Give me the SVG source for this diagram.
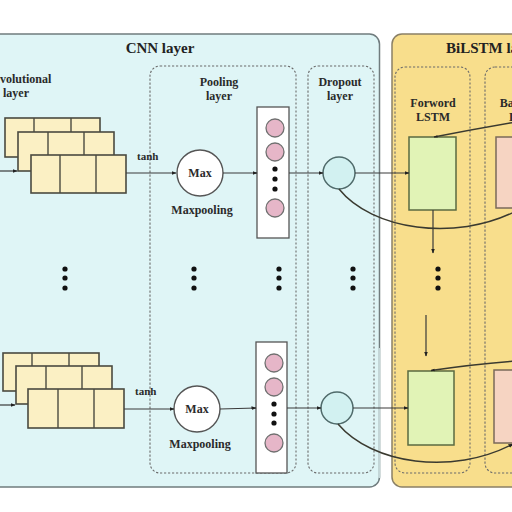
<svg xmlns="http://www.w3.org/2000/svg" width="512" height="512" viewBox="0 0 512 512">
  <style>
    .title { font-family: "Liberation Serif", "Times New Roman", serif; font-weight: bold; font-size: 15px; fill: #222222; }
    .lbl { font-family: "Liberation Serif", "Times New Roman", serif; font-weight: bold; font-size: 12px; fill: #2a2a2a; }
    .small { font-family: "Liberation Serif", "Times New Roman", serif; font-weight: bold; font-size: 11px; fill: #2a2a2a; }
    .dash { fill: none; stroke: #6a6a6a; stroke-width: 1.1; stroke-dasharray: 2.2 1.8; }
    .cell { fill: #fbf0c4; stroke: #4a4a40; stroke-width: 1.6; }
    .div { stroke: #4a4a40; stroke-width: 1.4; }
    .pink { fill: #e6b6c8; stroke: #707070; stroke-width: 1.3; }
    .vec { fill: #ffffff; stroke: #555555; stroke-width: 1.3; }
    .maxc { fill: #ffffff; stroke: #555555; stroke-width: 1.4; }
    .drop { fill: #d2f1f1; stroke: #4f6a6a; stroke-width: 1.5; }
    .fwd { fill: #e1f3b6; stroke: #5a6a40; stroke-width: 1.5; }
    .bwd { fill: #f6d4c2; stroke: #7a6a5a; stroke-width: 1.5; }
    .dot { fill: #111111; }
    .wire { fill: none; stroke: #3a3a3a; stroke-width: 1.2; }
    .curve { fill: none; stroke: #3a3a30; stroke-width: 1.5; }
  </style>
  <defs>
    <marker id="arr" viewBox="0 0 10 10" refX="9" refY="5" markerWidth="5" markerHeight="5" orient="auto" markerUnits="userSpaceOnUse">
      <path d="M0,1 L10,5 L0,9 z" fill="#222222"/>
    </marker>
    <marker id="arrw" viewBox="0 0 10 10" refX="9" refY="5" markerWidth="12" markerHeight="4" orient="auto" markerUnits="userSpaceOnUse">
      <path d="M0,2 L10,5 L0,8 z" fill="#222222"/>
    </marker>
  </defs>

  <rect width="512" height="512" fill="#ffffff"/>

  <!-- CNN container -->
  <g id="cnn-layer">
    <rect x="-10" y="34" width="389.5" height="453" rx="10" fill="#dff5f6" stroke="#707c7e" stroke-width="1.5"/>
    <line x1="379.5" y1="348" x2="379.5" y2="478" stroke="#c4d6d8" stroke-width="1.6"/>
    <text class="title" x="160" y="53" text-anchor="middle">CNN layer</text>
  </g>

  <!-- BiLSTM container -->
  <g id="bilstm-layer">
    <rect x="392" y="34" width="140" height="453" rx="10" fill="#f8de8c" stroke="#8a8066" stroke-width="1.5"/>
    <text class="title" x="446" y="53">BiLSTM layer</text>
  </g>

  <!-- layer columns -->
  <g id="conv-column">
    <text class="lbl" x="15" y="83" text-anchor="middle">Convolutional</text>
    <text class="lbl" x="16" y="97" text-anchor="middle">layer</text>
  </g>
  <g id="pooling-column">
    <rect class="dash" x="150" y="66" width="146" height="407" rx="10"/>
    <text class="lbl" x="219" y="86" text-anchor="middle">Pooling</text>
    <text class="lbl" x="219" y="100" text-anchor="middle">layer</text>
  </g>
  <g id="dropout-column">
    <rect class="dash" x="308" y="66" width="66" height="407" rx="10"/>
    <text class="lbl" x="340" y="86" text-anchor="middle">Dropout</text>
    <text class="lbl" x="340" y="100" text-anchor="middle">layer</text>
  </g>
  <g id="forward-column">
    <rect class="dash" x="395" y="67" width="75" height="406" rx="10"/>
    <text class="lbl" x="433" y="107" text-anchor="middle">Forword</text>
    <text class="lbl" x="433" y="121" text-anchor="middle">LSTM</text>
  </g>
  <g id="backward-column">
    <rect class="dash" x="485" y="67" width="70" height="406" rx="10"/>
    <text class="lbl" x="526" y="107" text-anchor="middle">Backward</text>
    <text class="lbl" x="526" y="121" text-anchor="middle">LSTM</text>
  </g>

  <!-- convolution feature maps, upper -->
  <g id="conv-top">
    <rect class="cell" x="5" y="118" width="95" height="39"/>
    <line class="div" x1="34" y1="118" x2="34" y2="157"/>
    <line class="div" x1="71" y1="118" x2="71" y2="157"/>
    <rect class="cell" x="18" y="132" width="96" height="39"/>
    <line class="div" x1="48" y1="132" x2="48" y2="171"/>
    <line class="div" x1="84" y1="132" x2="84" y2="171"/>
    <rect class="cell" x="31" y="155" width="95" height="38"/>
    <line class="div" x1="60" y1="155" x2="60" y2="193"/>
    <line class="div" x1="96" y1="155" x2="96" y2="193"/>
  </g>

  <!-- convolution feature maps, lower -->
  <g id="conv-bottom">
    <rect class="cell" x="3" y="353" width="96" height="38"/>
    <line class="div" x1="32" y1="353" x2="32" y2="391"/>
    <line class="div" x1="69" y1="353" x2="69" y2="391"/>
    <rect class="cell" x="16" y="366" width="96" height="38"/>
    <line class="div" x1="46" y1="366" x2="46" y2="404"/>
    <line class="div" x1="82" y1="366" x2="82" y2="404"/>
    <rect class="cell" x="28" y="389" width="96" height="39"/>
    <line class="div" x1="58" y1="389" x2="58" y2="428"/>
    <line class="div" x1="94" y1="389" x2="94" y2="428"/>
  </g>

  <!-- max pooling units -->
  <g id="max-top">
    <circle class="maxc" cx="200" cy="173" r="23"/>
    <text class="lbl" x="200" y="177" text-anchor="middle">Max</text>
    <text class="lbl" x="202" y="214" text-anchor="middle">Maxpooling</text>
  </g>
  <g id="max-bottom">
    <circle class="maxc" cx="197" cy="409" r="23"/>
    <text class="lbl" x="197" y="413" text-anchor="middle">Max</text>
    <text class="lbl" x="200" y="448" text-anchor="middle">Maxpooling</text>
  </g>

  <!-- pooled vectors -->
  <g id="vector-top">
    <rect class="vec" x="257" y="107" width="32" height="131"/>
    <circle class="pink" cx="275" cy="128" r="9"/>
    <circle class="pink" cx="275" cy="152" r="9"/>
    <circle class="dot" cx="275" cy="169" r="2.6"/>
    <circle class="dot" cx="275" cy="179" r="2.6"/>
    <circle class="dot" cx="275" cy="189" r="2.6"/>
    <circle class="pink" cx="275" cy="208" r="9"/>
  </g>
  <g id="vector-bottom">
    <rect class="vec" x="256" y="342" width="31" height="131"/>
    <circle class="pink" cx="274" cy="363" r="9"/>
    <circle class="pink" cx="274" cy="387" r="9"/>
    <circle class="dot" cx="274" cy="404" r="2.6"/>
    <circle class="dot" cx="274" cy="414" r="2.6"/>
    <circle class="dot" cx="274" cy="423" r="2.6"/>
    <circle class="pink" cx="274" cy="443" r="9"/>
  </g>

  <!-- dropout units -->
  <g id="dropout-top">
    <circle class="drop" cx="339" cy="173" r="16"/>
  </g>
  <g id="dropout-bottom">
    <circle class="drop" cx="337" cy="408" r="16"/>
  </g>

  <!-- LSTM cells -->
  <g id="forward-top">
    <rect class="fwd" x="409" y="137" width="47" height="73"/>
  </g>
  <g id="backward-top">
    <rect class="bwd" x="496" y="137" width="40" height="71"/>
  </g>
  <g id="forward-bottom">
    <rect class="fwd" x="408" y="371" width="46" height="74"/>
  </g>
  <g id="backward-bottom">
    <rect class="bwd" x="494" y="370" width="42" height="73"/>
  </g>

  <!-- vertical ellipses between the two rows -->
  <g id="ellipses">
    <circle class="dot" cx="65" cy="269" r="2.6"/>
    <circle class="dot" cx="65" cy="278" r="2.6"/>
    <circle class="dot" cx="65" cy="288" r="2.6"/>
    <circle class="dot" cx="194" cy="269" r="2.6"/>
    <circle class="dot" cx="194" cy="278" r="2.6"/>
    <circle class="dot" cx="194" cy="288" r="2.6"/>
    <circle class="dot" cx="279" cy="269" r="2.6"/>
    <circle class="dot" cx="279" cy="278" r="2.6"/>
    <circle class="dot" cx="279" cy="288" r="2.6"/>
    <circle class="dot" cx="353" cy="269" r="2.6"/>
    <circle class="dot" cx="353" cy="278" r="2.6"/>
    <circle class="dot" cx="353" cy="288" r="2.6"/>
    <circle class="dot" cx="438" cy="269" r="2.6"/>
    <circle class="dot" cx="438" cy="278" r="2.6"/>
    <circle class="dot" cx="438" cy="288" r="2.6"/>
  </g>

  <!-- connectors -->
  <g id="connectors">
    <!-- upper row -->
    <line class="wire" x1="-2" y1="171" x2="17" y2="171" marker-end="url(#arr)"/>
    <line class="wire" x1="126" y1="173" x2="176" y2="173" marker-end="url(#arr)"/>
    <text class="small" x="137" y="160">tanh</text>
    <line class="wire" x1="223" y1="173" x2="257" y2="173" marker-end="url(#arr)"/>
    <line class="wire" x1="289" y1="173" x2="323" y2="173" marker-end="url(#arr)"/>
    <line class="wire" x1="355" y1="173" x2="409" y2="173" marker-end="url(#arr)"/>
    <line class="wire" x1="433" y1="210" x2="433" y2="253" marker-end="url(#arr)"/>
    <path class="curve" d="M339,189 C372,230 455,242 516,211"/>
    <path class="curve" d="M516,122 Q475,129 434,137" marker-end="url(#arrw)"/>

    <!-- lower row -->
    <line class="wire" x1="-2" y1="405" x2="15" y2="405" marker-end="url(#arr)"/>
    <line class="wire" x1="124" y1="409" x2="174" y2="409" marker-end="url(#arr)"/>
    <text class="small" x="135" y="395">tanh</text>
    <line class="wire" x1="220" y1="409" x2="256" y2="408" marker-end="url(#arr)"/>
    <line class="wire" x1="287" y1="408" x2="321" y2="408" marker-end="url(#arr)"/>
    <line class="wire" x1="353" y1="408" x2="408" y2="408" marker-end="url(#arr)"/>
    <line class="wire" x1="426" y1="315" x2="426" y2="356" marker-end="url(#arr)"/>
    <path class="curve" d="M338,424 C372,464 452,476 513,444" marker-end="url(#arr)"/>
    <path class="curve" d="M516,361 Q475,364 431,370.5" marker-end="url(#arrw)"/>
  </g>
</svg>
